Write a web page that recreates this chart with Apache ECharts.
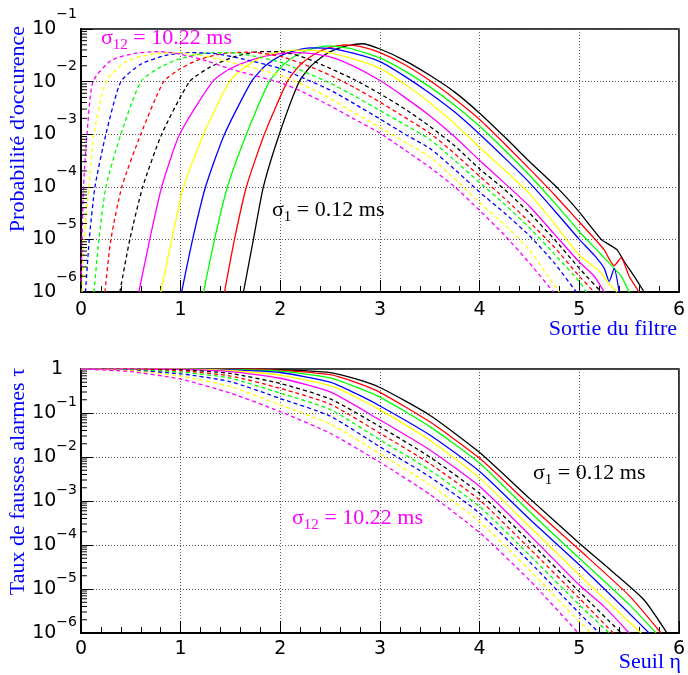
<!DOCTYPE html>
<html>
<head>
<meta charset="utf-8">
<script src="https://cdn.jsdelivr.net/npm/echarts@6/dist/echarts.min.js"></script>
<style>html,body{margin:0;padding:0;background:#fff}#c{width:688px;height:675px}</style>
</head>
<body>
<div id="c"></div>
<script>
// ---------- DATA ----------
// x ticks (filter output / threshold)
const xTicks = [0, 1, 2, 3, 4, 5, 6];
// log-axis decade exponents shown as tick labels
const probDecades = [-6, -5, -4, -3, -2, -1];
const rateDecades = [-6, -5, -4, -3, -2, -1, 0];
const logMinorMultipliers = [2, 3, 4, 5, 6, 7, 8, 9];

// curve labels: sigma_1 ... sigma_12
const curveNames = ['σ1 = 0.12 ms','σ2','σ3','σ4','σ5','σ6','σ7','σ8','σ9','σ10','σ11','σ12 = 10.22 ms'];
const curveColors = ['#000000','#ff0000','#00ff00','#0000ff','#ffff00','#ff00ff',
                     '#000000','#ff0000','#00ff00','#0000ff','#ffff00','#ff00ff'];
const curveDashed = [false,false,false,false,false,false,true,true,true,true,true,true];

// Top panel: [filter output, log10(probability of occurrence)]
const prob1 = [[1.63,-6],[1.73,-5],[1.83,-4],[1.99,-3],[2.19,-2],[2.31,-1.70],[2.47,-1.46],[2.64,-1.33],[2.82,-1.28],[3.0,-1.38],[3.25,-1.6],[3.5,-1.88],[3.75,-2.2],[4.0,-2.6],[4.25,-3.05],[4.5,-3.52],[4.79,-4.04],[5.0,-4.48],[5.22,-5.0],[5.3,-5.1],[5.38,-5.2],[5.45,-5.42],[5.55,-5.7],[5.65,-6]];
const prob2 = [[1.44,-6],[1.54,-5],[1.66,-4],[1.84,-3],[2.07,-2],[2.2,-1.68],[2.35,-1.47],[2.5,-1.35],[2.66,-1.30],[2.8,-1.33],[3.0,-1.45],[3.25,-1.68],[3.5,-1.98],[3.75,-2.33],[4.0,-2.72],[4.25,-3.18],[4.5,-3.66],[4.75,-4.15],[5.0,-4.67],[5.15,-4.98],[5.25,-5.2],[5.35,-5.5],[5.42,-5.35],[5.5,-5.7],[5.6,-6]];
const prob3 = [[1.23,-6],[1.34,-5],[1.47,-4],[1.66,-3],[1.89,-2],[2.03,-1.68],[2.18,-1.48],[2.33,-1.37],[2.48,-1.32],[2.7,-1.37],[3.0,-1.55],[3.25,-1.8],[3.5,-2.1],[3.75,-2.45],[4.0,-2.85],[4.25,-3.3],[4.5,-3.78],[4.75,-4.3],[5.0,-4.85],[5.2,-5.25],[5.35,-5.55],[5.42,-5.7],[5.5,-6]];
const prob4 = [[1.01,-6],[1.12,-5],[1.25,-4],[1.44,-3],[1.71,-2],[1.85,-1.70],[2.0,-1.51],[2.15,-1.41],[2.3,-1.36],[2.5,-1.37],[2.75,-1.47],[3.0,-1.62],[3.25,-1.9],[3.5,-2.22],[3.75,-2.58],[4.0,-3.0],[4.25,-3.45],[4.5,-3.92],[4.75,-4.45],[5.0,-5.0],[5.15,-5.3],[5.25,-5.55],[5.3,-5.8],[5.35,-5.55],[5.4,-6]];
const prob5 = [[0.80,-6],[0.91,-5],[1.03,-4],[1.23,-3],[1.49,-2],[1.65,-1.72],[1.82,-1.53],[2.0,-1.43],[2.15,-1.40],[2.4,-1.42],[2.7,-1.55],[3.0,-1.75],[3.25,-2.05],[3.5,-2.4],[3.75,-2.8],[4.0,-3.25],[4.25,-3.68],[4.5,-4.13],[4.75,-4.7],[5.0,-5.3],[5.2,-5.6],[5.3,-5.85],[5.38,-6]];
const prob6 = [[0.58,-6],[0.69,-5],[0.81,-4],[0.99,-3],[1.32,-2],[1.49,-1.76],[1.72,-1.58],[2.0,-1.47],[2.2,-1.45],[2.5,-1.53],[2.75,-1.72],[3.0,-1.98],[3.25,-2.3],[3.5,-2.65],[3.75,-3.05],[4.0,-3.5],[4.25,-3.93],[4.5,-4.37],[4.75,-4.9],[5.0,-5.43],[5.15,-5.7],[5.25,-6]];
const prob7 = [[0.39,-6],[0.49,-5],[0.62,-4],[0.81,-3],[1.09,-2],[1.3,-1.72],[1.55,-1.52],[1.8,-1.43],[2.0,-1.43],[2.25,-1.55],[2.5,-1.75],[2.75,-1.97],[3.0,-2.23],[3.25,-2.52],[3.5,-2.85],[3.75,-3.22],[4.0,-3.66],[4.25,-4.05],[4.5,-4.5],[4.75,-5.0],[5.0,-5.55],[5.22,-6]];
const prob8 = [[0.24,-6],[0.30,-5],[0.41,-4],[0.60,-3],[0.83,-2],[1.0,-1.75],[1.2,-1.57],[1.45,-1.46],[1.7,-1.44],[2.0,-1.52],[2.25,-1.68],[2.5,-1.88],[2.75,-2.12],[3.0,-2.39],[3.25,-2.68],[3.5,-2.98],[3.75,-3.37],[4.0,-3.8],[4.25,-4.22],[4.5,-4.67],[4.75,-5.15],[5.0,-5.7],[5.15,-6]];
const prob9 = [[0.13,-6],[0.18,-5],[0.25,-4],[0.40,-3],[0.60,-2],[0.8,-1.72],[1.0,-1.56],[1.25,-1.46],[1.5,-1.45],[1.75,-1.52],[2.0,-1.63],[2.25,-1.82],[2.5,-2.03],[2.75,-2.28],[3.0,-2.55],[3.25,-2.82],[3.5,-3.1],[3.75,-3.5],[4.0,-3.92],[4.25,-4.33],[4.5,-4.78],[4.75,-5.28],[5.0,-5.8],[5.07,-6]];
const prob10 = [[0.045,-6],[0.083,-5],[0.14,-4],[0.25,-3],[0.40,-2],[0.6,-1.67],[0.85,-1.5],[1.1,-1.45],[1.35,-1.47],[1.6,-1.56],[2.0,-1.75],[2.25,-1.95],[2.5,-2.16],[2.75,-2.43],[3.0,-2.71],[3.25,-3.0],[3.5,-3.27],[3.75,-3.67],[4.0,-4.1],[4.25,-4.5],[4.5,-4.93],[4.75,-5.45],[4.97,-6]];
const prob11 = [[0.01,-6],[0.03,-5],[0.08,-4],[0.13,-3],[0.25,-2],[0.45,-1.62],[0.7,-1.48],[0.95,-1.45],[1.2,-1.5],[1.5,-1.63],[2.0,-1.88],[2.25,-2.08],[2.5,-2.32],[2.75,-2.6],[3.0,-2.87],[3.25,-3.15],[3.5,-3.43],[3.75,-3.85],[4.0,-4.3],[4.25,-4.72],[4.5,-5.2],[4.65,-5.6],[4.8,-6]];
const prob12 = [[0.0,-5.8],[0.01,-5],[0.025,-4],[0.06,-3],[0.12,-2],[0.3,-1.6],[0.55,-1.46],[0.78,-1.43],[1.0,-1.48],[1.25,-1.6],[1.5,-1.76],[2.0,-2.02],[2.25,-2.22],[2.5,-2.46],[2.75,-2.72],[3.0,-2.98],[3.25,-3.3],[3.5,-3.63],[3.75,-4.0],[4.0,-4.45],[4.25,-4.92],[4.5,-5.45],[4.74,-6]];

// Bottom panel: [threshold, log10(false alarm rate)]
const rate1 = [[0,0],[1,0],[1.5,0],[2,-0.02],[2.25,-0.04],[2.5,-0.08],[2.75,-0.22],[3,-0.42],[3.5,-1.05],[4,-1.9],[4.5,-2.94],[5,-3.96],[5.33,-4.6],[5.65,-5.25],[5.88,-6]];
const rate2 = [[0,0],[1,0],[1.5,0],[2,-0.03],[2.5,-0.13],[2.75,-0.3],[3,-0.53],[3.5,-1.2],[4,-2.03],[4.5,-3.09],[5,-4.11],[5.5,-5.15],[5.82,-6]];
const rate3 = [[0,0],[1,0],[1.5,-0.01],[2,-0.05],[2.5,-0.2],[2.75,-0.4],[3,-0.64],[3.5,-1.31],[4,-2.14],[4.5,-3.24],[5,-4.30],[5.5,-5.35],[5.77,-6]];
const rate4 = [[0,0],[1,0],[1.5,-0.02],[2,-0.08],[2.5,-0.3],[2.75,-0.55],[3,-0.84],[3.5,-1.5],[4,-2.33],[4.5,-3.41],[5,-4.45],[5.5,-5.55],[5.70,-6]];
const rate5 = [[0,0],[1,0],[1.5,-0.04],[2,-0.14],[2.5,-0.38],[2.75,-0.63],[3,-0.93],[3.5,-1.62],[4,-2.48],[4.5,-3.58],[5,-4.68],[5.5,-5.75],[5.62,-6]];
const rate6 = [[0,0],[0.5,0],[1,-0.01],[1.5,-0.06],[2,-0.21],[2.5,-0.52],[3,-1.16],[3.5,-1.84],[4,-2.67],[4.5,-3.77],[5,-4.91],[5.25,-5.4],[5.50,-6]];
const rate7 = [[0,0],[0.5,-0.01],[1,-0.02],[1.5,-0.10],[2,-0.33],[2.5,-0.68],[3,-1.31],[3.5,-2.0],[4,-2.83],[4.5,-3.92],[5,-5.06],[5.42,-6]];
const rate8 = [[0,0],[0.5,-0.01],[1,-0.04],[1.5,-0.16],[2,-0.44],[2.5,-0.80],[3,-1.46],[3.5,-2.15],[4,-2.98],[4.5,-4.08],[5,-5.21],[5.34,-6]];
const rate9 = [[0,0],[0.5,-0.02],[1,-0.07],[1.5,-0.21],[2,-0.55],[2.5,-0.92],[3,-1.61],[3.5,-2.3],[4,-3.13],[4.5,-4.23],[5,-5.36],[5.30,-6]];
const rate10 = [[0,0],[0.5,-0.03],[1,-0.11],[1.5,-0.29],[2,-0.67],[2.5,-1.07],[3,-1.77],[3.5,-2.45],[4,-3.28],[4.5,-4.38],[5,-5.55],[5.20,-6]];
const rate11 = [[0,0],[0.5,-0.04],[1,-0.16],[1.5,-0.40],[2,-0.82],[2.5,-1.25],[3,-1.93],[3.5,-2.63],[4,-3.47],[4.5,-4.57],[5,-5.74],[5.12,-6]];
const rate12 = [[0,0],[0.5,-0.06],[1,-0.23],[1.5,-0.55],[2,-0.97],[2.5,-1.46],[3,-2.12],[3.5,-2.85],[4,-3.72],[4.5,-4.80],[4.99,-6]];

const probCurves = [prob1,prob2,prob3,prob4,prob5,prob6,prob7,prob8,prob9,prob10,prob11,prob12];
const rateCurves = [rate1,rate2,rate3,rate4,rate5,rate6,rate7,rate8,rate9,rate10,rate11,rate12];

// ---------- CHART ----------
const SANS = "'DejaVu Sans'";
const SERIF = "'Liberation Serif'";
const toValue = pts => pts.map(p => [p[0], Math.pow(10, p[1])]);

function logLabel(v) {
  const e = Math.round(Math.log10(v));
  if (e === 0) return '{one|1}';
  return '{b|10}{sup|\u2212' + (-e) + '}';
}
function richFor(lh) {
  return {
    b: {fontSize: 19, fontFamily: SANS, color: '#000', lineHeight: lh, verticalAlign: 'middle'},
    sup: {fontSize: 14, fontFamily: SANS, color: '#000', lineHeight: 16, verticalAlign: 'top'},
    one: {fontSize: 19, fontFamily: SANS, color: '#000', lineHeight: lh, verticalAlign: 'middle', padding: [0, 14, 0, 0]}
  };
}

function minorTickValues(decades) {
  const out = [];
  for (let i = 0; i < decades.length - 1; i++) {
    logMinorMultipliers.forEach(m => out.push([0, m * Math.pow(10, decades[i])]));
  }
  return out;
}

const xAxisCommon = {
  type: 'value', min: 0, max: 6, interval: 1,
  axisLine: {show: true, lineStyle: {color: '#000', width: 2}},
  axisTick: {show: true, inside: true, length: 12, lineStyle: {color: '#000', width: 1}},
  minorTick: {show: true, splitNumber: 5, length: 6, lineStyle: {color: '#000', width: 1}},
  axisLabel: {fontSize: 19, fontFamily: SANS, color: '#000', margin: 9,
    formatter: v => xTicks.indexOf(v) >= 0 ? String(v) : ''},
  splitLine: {show: true, lineStyle: {color: '#555', width: 1, type: [1, 2]}}
};
function yAxisLog(min, max, lh) {
  return {
    type: 'log', logBase: 10, min: min, max: max, splitNumber: 6,
    axisLine: {show: true, lineStyle: {color: '#000', width: 2}},
    axisTick: {show: true, inside: true, length: 12, lineStyle: {color: '#000', width: 1}},
    axisLabel: {margin: 4, formatter: logLabel, rich: richFor(lh)},
    splitLine: {show: true, lineStyle: {color: '#555', width: 1, type: [1, 2]}}
  };
}

const series = [];
probCurves.forEach((c, i) => {
  series.push({
    name: curveNames[i], type: 'line', xAxisIndex: 0, yAxisIndex: 0,
    data: toValue(c), showSymbol: false, symbol: 'none', smooth: 0.2,
    lineStyle: {color: curveColors[i], width: 1.3, type: curveDashed[i] ? [4, 3] : 'solid'},
    z: 3, silent: true
  });
});
rateCurves.forEach((c, i) => {
  series.push({
    name: curveNames[i], type: 'line', xAxisIndex: 1, yAxisIndex: 1,
    data: toValue(c), showSymbol: false, symbol: 'none', smooth: 0.2,
    lineStyle: {color: curveColors[i], width: 1.3, type: curveDashed[i] ? [4, 3] : 'solid'},
    z: 3, silent: true
  });
});
// log minor ticks on the left axes
[[0, probDecades], [1, rateDecades]].forEach(([k, dec]) => {
  series.push({
    type: 'custom', xAxisIndex: k, yAxisIndex: k, silent: true, clip: false, z: 4,
    data: minorTickValues(dec),
    renderItem: (params, api) => {
      const p = api.coord([0, api.value(1)]);
      return {type: 'line', shape: {x1: p[0], y1: p[1], x2: p[0] + 6, y2: p[1]},
              style: {stroke: '#000', lineWidth: 1}};
    }
  });
});

const subRich = (color) => ({
  a: {fontSize: 22, fontFamily: SERIF, fill: color, lineHeight: 30, verticalAlign: 'middle'},
  s: {fontSize: 15, fontFamily: SERIF, fill: color, lineHeight: 15, verticalAlign: 'bottom'}
});

const option = {
  animation: false,
  backgroundColor: '#fff',
  grid: [
    {left: 81, top: 29, width: 605, height: 263, show: true, borderColor: '#000', borderWidth: 1.5, backgroundColor: 'transparent'},
    {left: 81, top: 369, width: 605, height: 264, show: true, borderColor: '#000', borderWidth: 1.5, backgroundColor: 'transparent'}
  ],
  xAxis: [Object.assign({gridIndex: 0}, xAxisCommon), Object.assign({gridIndex: 1}, xAxisCommon, {axisLabel: Object.assign({}, xAxisCommon.axisLabel, {margin: 7})})],
  yAxis: [Object.assign({gridIndex: 0}, yAxisLog(1e-6, 1e-1, 44)), Object.assign({gridIndex: 1}, yAxisLog(1e-6, 1, 36))],
  series: series,
  graphic: [
    {type: 'text', x: 18, y: 26, rotation: Math.PI / 2,
     style: {text: "Probabilité d'occurence", font: "22px " + SERIF, fill: '#0000ff', align: 'right', verticalAlign: 'middle'}},
    {type: 'text', x: 677, y: 329,
     style: {text: 'Sortie du filtre', font: "22px " + SERIF, fill: '#0000ff', align: 'right', verticalAlign: 'middle'}},
    {type: 'text', x: 18, y: 368, rotation: Math.PI / 2,
     style: {text: 'Taux de fausses alarmes τ', font: "22px " + SERIF, fill: '#0000ff', align: 'right', verticalAlign: 'middle'}},
    {type: 'text', x: 681, y: 662,
     style: {text: 'Seuil η', font: "22px " + SERIF, fill: '#0000ff', align: 'right', verticalAlign: 'middle'}},
    {type: 'text', x: 101, y: 38, z: 10,
     style: {text: '{a|σ}{s|12}{a| = 10.22 ms}', rich: subRich('#ff00ff'), align: 'left', verticalAlign: 'middle'}},
    {type: 'text', x: 272, y: 210, z: 10,
     style: {text: '{a|σ}{s|1}{a| = 0.12 ms}', rich: subRich('#000000'), align: 'left', verticalAlign: 'middle'}},
    {type: 'text', x: 533, y: 473, z: 10,
     style: {text: '{a|σ}{s|1}{a| = 0.12 ms}', rich: subRich('#000000'), align: 'left', verticalAlign: 'middle'}},
    {type: 'text', x: 292, y: 518, z: 10,
     style: {text: '{a|σ}{s|12}{a| = 10.22 ms}', rich: subRich('#ff00ff'), align: 'left', verticalAlign: 'middle'}}
  ]
};

const chart = echarts.init(document.getElementById('c'), null, {renderer: 'canvas'});
chart.setOption(option);
</script>
</body>
</html>
